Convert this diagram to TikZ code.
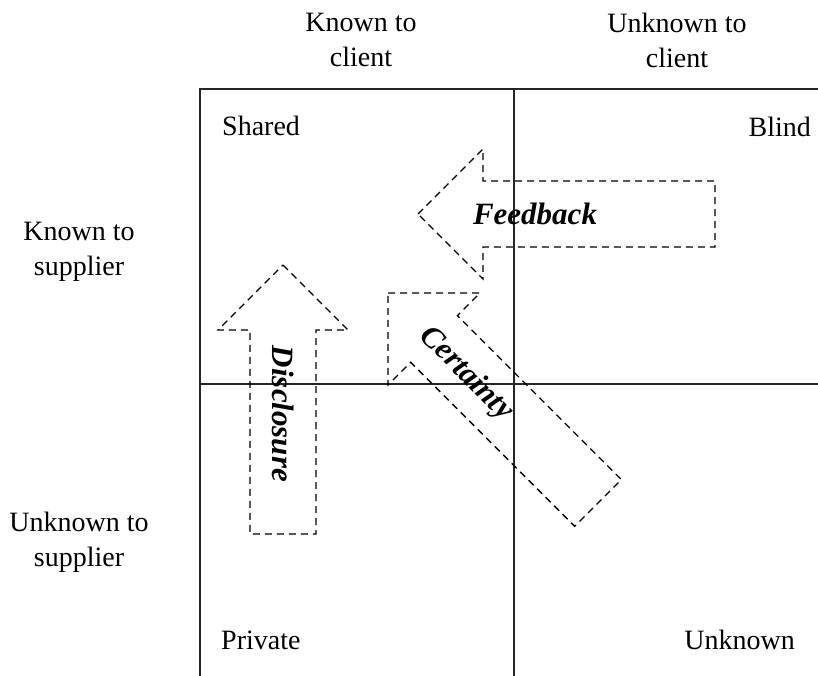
\documentclass[tikz,border=0pt]{standalone}
\usepackage{fontspec}
\setmainfont{Liberation Serif}
\usetikzlibrary{positioning}

% block arrow: tip, direction of the tail, length tip to tail
\newcommand{\blockarrow}[3]{%
  \draw[flow arrow,shift={(#1)},rotate=#2] (0,0) -- (65,65) -- (65,33) -- (#3,33)
    -- (#3,-33) -- (65,-33) -- (65,-65) -- cycle;}

\begin{document}
\begin{tikzpicture}[x=1pt,y=1pt,
      grid line/.style={line width=1.6pt,black!85},
      flow arrow/.style={line width=1.3pt,dash pattern=on 7pt off 5pt,line join=miter},
      axis text/.style={inner sep=0pt,align=center,font=\fontsize{28}{35}\selectfont},
      cell text/.style={inner sep=0pt,font=\fontsize{28}{35}\selectfont},
      flow text/.style={inner sep=0pt,font=\fontsize{31}{36}\selectfont\bfseries\itshape}]

  \useasboundingbox (0,0) rectangle (818,676);

  \coordinate (top left) at (200,587);
  \coordinate (top mid) at (514,587);
  \coordinate (top right) at (818,587);
  \coordinate (mid left) at (200,292);
  \coordinate (mid right) at (818,292);
  \coordinate (bottom left) at (200,0);
  \coordinate (bottom mid) at (514,0);

  \draw[grid line] (top right) -- (top left) -- (bottom left);
  \draw[grid line] (top mid) -- (bottom mid);
  \draw[grid line] (mid left) -- (mid right);

  \node[axis text] (known client) at (361,636) {Known to\\client};
  \node[axis text] (unknown client) at (677,636) {Unknown to\\client};
  \node[axis text] (known supplier) at (79,424) {Known to\\supplier};
  \node[axis text] (unknown supplier) at (79,134) {Unknown to\\supplier};

  \node[cell text,anchor=base west] (shared) at (222,540) {Shared};
  \node[cell text,anchor=base east] (blind) at (811,539) {Blind};
  \node[cell text,anchor=base west] (private) at (221,26) {Private};
  \node[cell text,anchor=base east] (unknown) at (795,26) {Unknown};

  \coordinate (feedback tip) at (418,462);
  \coordinate (disclosure tip) at (283,411);
  \coordinate (certainty tip) at (388,383);

  \blockarrow{feedback tip}{0}{297}
  \blockarrow{disclosure tip}{-90}{269}
  \blockarrow{certainty tip}{-45}{297}

  \node[flow text,anchor=base] (feedback) at (535,451) {Feedback};
  \node[flow text,rotate=-90] (disclosure) at (283,262) {Disclosure};
  \node[flow text,rotate=-45] (certainty) at (466,302) {Certainty};

\end{tikzpicture}
\end{document}
